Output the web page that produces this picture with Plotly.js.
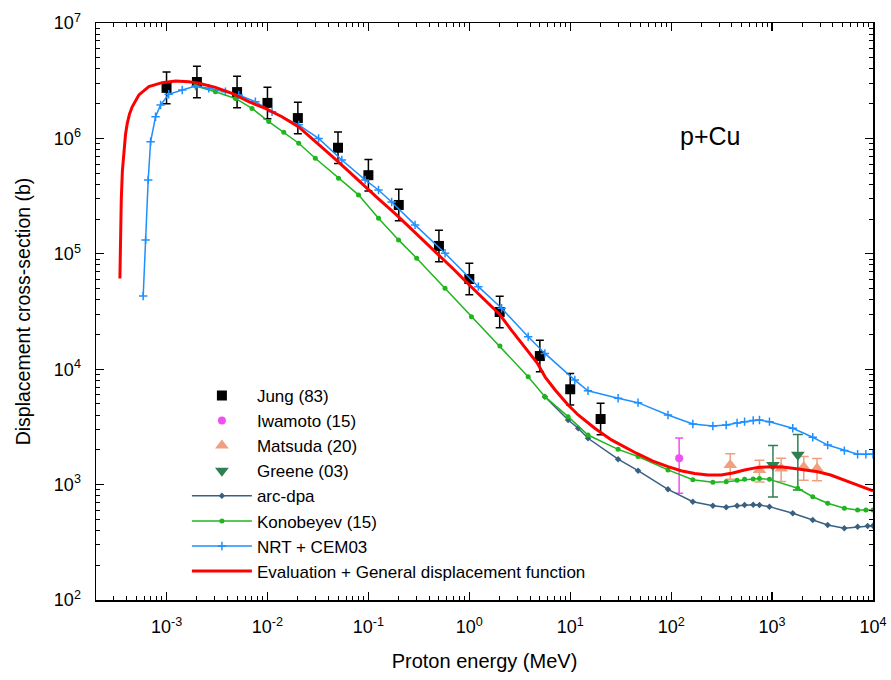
<!DOCTYPE html>
<html>
<head>
<meta charset="utf-8">
<script src="https://cdn.plot.ly/plotly-3.0.1.min.js"></script>
<style>html,body{margin:0;padding:0;background:#fff;}#chart{width:891px;height:680px;}</style>
</head>
<body>
<div id="chart"></div>
<script>
// ---- Data (energies in MeV, cross-sections in barn) ----
const jungE = [1e-3, 2e-3, 5e-3, 1e-2, 2e-2, 5e-2, 0.1, 0.2, 0.5, 1, 2, 5, 10, 20];
const jungY = [2.74e6, 3.08e6, 2.52e6, 2.03e6, 1.5e6, 8.3e5, 4.8e5, 2.65e5, 1.17e5, 6.05e4, 3.13e4, 1.3e4, 6.7e3, 3.7e3];

const iwamotoE = [120];
const iwamotoY = [1.69e3];
const iwamotoErr = [850];

const matsudaE = [385, 750, 1230, 2060, 2790];
const matsudaY = [1.48e3, 1.34e3, 1.38e3, 1.42e3, 1.38e3];
const matsudaErr = [370, 285, 315, 330, 300];

const greeneE = [1020, 1800];
const greeneY = [1.48e3, 1.81e3];
const greeneErr = [700, 910];

const arcE = [5.61, 9.53, 12.0, 15.0, 29.8, 47, 93, 164, 259, 351, 450, 534, 650, 750, 942, 1603, 2529, 3557, 5200, 7040, 8850, 10000];
const arcY = [5.78e3, 3.63e3, 3.08e3, 2.52e3, 1.66e3, 1.32e3, 910, 711, 656, 636, 655, 665, 668, 665, 644, 564, 493, 447, 418, 431, 437, 440];

const konE = [1.94e-3, 3.05e-3, 4.82e-3, 7.03e-3, 1.03e-2, 1.45e-2, 2.04e-2, 2.98e-2, 5.06e-2, 7.98e-2, 0.126, 0.199, 0.301, 0.575, 1.05, 2.01, 3.83, 5.61, 9.53, 15.0, 29.8, 47, 93, 164, 259, 351, 450, 534, 650, 750, 942, 1795, 2529, 3557, 5200, 7040, 8500, 10000];
const konY = [2.84e6, 2.54e6, 2.22e6, 1.82e6, 1.40e6, 1.13e6, 9.08e5, 6.73e5, 4.51e5, 3.24e5, 2.03e5, 1.32e5, 9.15e4, 5.03e4, 2.85e4, 1.59e4, 8.61e3, 5.78e3, 3.88e3, 2.69e3, 2.02e3, 1.75e3, 1.34e3, 1.10e3, 1.05e3, 1.06e3, 1.09e3, 1.11e3, 1.12e3, 1.13e3, 1.11e3, 929, 785, 689, 623, 603, 603, 603];

const nrtE = [5.87e-4, 6.2e-4, 6.58e-4, 6.95e-4, 7.78e-4, 8.73e-4, 1.05e-3, 1.43e-3, 1.94e-3, 2.62e-3, 3.83e-3, 5.19e-3, 7.59e-3, 1.11e-2, 2.04e-2, 3.21e-2, 5.46e-2, 9.29e-2, 0.126, 0.170, 0.290, 0.575, 1.23, 2.09, 3.83, 5.61, 11.1, 15.0, 29.8, 47, 93, 164, 259, 351, 450, 534, 650, 750, 942, 1603, 2529, 3557, 5200, 7040, 8500, 10000];
const nrtY = [4.3e4, 1.32e5, 4.37e5, 9.35e5, 1.54e6, 1.95e6, 2.41e6, 2.63e6, 2.84e6, 2.72e6, 2.54e6, 2.38e6, 2.08e6, 1.70e6, 1.31e6, 1.0e6, 6.5e5, 4.37e5, 3.57e5, 2.81e5, 1.78e5, 1.01e5, 5.19e4, 3.37e4, 1.91e4, 1.37e4, 8.05e3, 6.5e3, 5.6e3, 5.13e3, 4.01e3, 3.35e3, 3.22e3, 3.28e3, 3.42e3, 3.51e3, 3.6e3, 3.63e3, 3.51e3, 3.08e3, 2.57e3, 2.2e3, 1.97e3, 1.83e3, 1.83e3, 1.83e3];

const evalE = [3.45e-4, 3.5e-4, 3.56e-4, 3.65e-4, 3.78e-4, 3.92e-4, 4.08e-4, 4.3e-4, 4.57e-4, 5.32e-4, 6.68e-4, 9.04e-4, 1.23e-3, 1.66e-3, 2.09e-3, 3.05e-3, 4.46e-3, 6.52e-3, 9.53e-3, 1.39e-2, 2.04e-2, 2.98e-2, 4.35e-2, 6.35e-2, 9.57e-2, 0.126, 0.190, 0.267, 0.472, 0.695, 1.0, 1.54, 1.98, 2.60, 3.50, 4.71, 5.65, 7.09, 9.53, 12.0, 17.5, 25.6, 45.2, 66, 93, 125, 171, 231, 313, 408, 534, 722, 977, 1276, 1667, 2155, 2831, 3808, 5200, 7040, 10000];
const evalY = [6.1e4, 1.6e5, 2.92e5, 5.2e5, 7.9e5, 1.08e6, 1.35e6, 1.63e6, 1.88e6, 2.38e6, 2.81e6, 3.04e6, 3.14e6, 3.10e6, 3.0e6, 2.77e6, 2.46e6, 2.08e6, 1.82e6, 1.54e6, 1.256e6, 9.48e5, 7.03e5, 5.21e5, 3.72e5, 2.99e5, 2.17e5, 1.64e5, 1.02e5, 7.38e4, 5.37e4, 3.75e4, 3.01e4, 2.19e4, 1.59e4, 1.13e4, 8.55e3, 6.61e3, 4.90e3, 4.01e3, 3.08e3, 2.44e3, 1.87e3, 1.60e3, 1.43e3, 1.32e3, 1.25e3, 1.21e3, 1.21e3, 1.26e3, 1.34e3, 1.41e3, 1.43e3, 1.42e3, 1.38e3, 1.34e3, 1.29e3, 1.21e3, 1.10e3, 991, 881];

const xTickVals = [1e-3, 1e-2, 1e-1, 1, 10, 100, 1000, 10000];
const xTickText = ['10<sup>-3</sup>', '10<sup>-2</sup>', '10<sup>-1</sup>', '10<sup>0</sup>', '10<sup>1</sup>', '10<sup>2</sup>', '10<sup>3</sup>', '10<sup>4</sup>'];
const yTickVals = [1e2, 1e3, 1e4, 1e5, 1e6, 1e7];
const yTickText = ['10<sup>2</sup>', '10<sup>3</sup>', '10<sup>4</sup>', '10<sup>5</sup>', '10<sup>6</sup>', '10<sup>7</sup>'];

// ---- Traces ----
const traces = [
  {
    name: 'Jung (83)', x: jungE, y: jungY, type: 'scatter', mode: 'markers',
    marker: {symbol: 'square', size: 10, color: '#000000'},
    error_y: {type: 'percent', symmetric: false, value: 37, valueminus: 27, color: '#000000', thickness: 1.5, width: 4}
  },
  {
    name: 'Iwamoto (15)', x: iwamotoE, y: iwamotoY, type: 'scatter', mode: 'markers',
    marker: {symbol: 'circle', size: 8, color: '#f050f0'},
    error_y: {type: 'data', array: iwamotoErr, color: '#f050f0', thickness: 1.5, width: 4}
  },
  {
    name: 'Matsuda (20)', x: matsudaE, y: matsudaY, type: 'scatter', mode: 'markers',
    marker: {symbol: 'triangle-up', size: 12, color: '#f0a080'},
    error_y: {type: 'data', array: matsudaErr, color: '#f0a080', thickness: 1.5, width: 5}
  },
  {
    name: 'Greene (03)', x: greeneE, y: greeneY, type: 'scatter', mode: 'markers',
    marker: {symbol: 'triangle-down', size: 12, color: '#2e8050'},
    error_y: {type: 'data', array: greeneErr, color: '#2e8050', thickness: 1.5, width: 5}
  },
  {
    name: 'arc-dpa', x: arcE, y: arcY, type: 'scatter', mode: 'lines+markers',
    line: {color: '#3a6080', width: 1.5},
    marker: {symbol: 'diamond', size: 5, color: '#3a6080'}
  },
  {
    name: 'Konobeyev (15)', x: konE, y: konY, type: 'scatter', mode: 'lines+markers',
    line: {color: '#1fb51f', width: 1.5},
    marker: {symbol: 'circle', size: 5, color: '#1fb51f'}
  },
  {
    name: 'NRT + CEM03', x: nrtE, y: nrtY, type: 'scatter', mode: 'lines+markers',
    line: {color: '#1e8fff', width: 1.5},
    marker: {symbol: 'cross-thin', size: 6, color: '#1e8fff', line: {color: '#1e8fff', width: 1.5}}
  },
  {
    name: 'Evaluation + General displacement function', x: evalE, y: evalY, type: 'scatter', mode: 'lines',
    line: {color: '#ff0000', width: 3}
  }
];

const axisCommon = {
  type: 'log', showline: true, linecolor: '#000', linewidth: 1.5, mirror: 'allticks',
  ticks: 'inside', ticklen: 8, tickwidth: 1.2, tickcolor: '#000',
  showgrid: false, zeroline: false, tickmode: 'array',
  tickfont: {family: 'Liberation Sans, Arial, sans-serif', size: 18, color: '#000'},
  minor: {ticks: 'inside', ticklen: 4, tickwidth: 1, tickcolor: '#000', dtick: 'D1', showgrid: false}
};

const layout = {
  width: 891, height: 680,
  margin: {l: 96, r: 18, t: 23, b: 80},
  paper_bgcolor: '#fff', plot_bgcolor: '#fff',
  font: {family: 'Liberation Sans, Arial, sans-serif', color: '#000'},
  xaxis: Object.assign({}, axisCommon, {
    range: [Math.log10(2e-4), 4], tickvals: xTickVals, ticktext: xTickText,
    ticklabelstandoff: 10,
    title: {text: 'Proton energy (MeV)', font: {size: 20}, standoff: 18}
  }),
  yaxis: Object.assign({}, axisCommon, {
    range: [2, 7], tickvals: yTickVals, ticktext: yTickText,
    ticklabelstandoff: 10,
    title: {text: 'Displacement cross-section (b)', font: {size: 19.5}, standoff: 18}
  }),
  showlegend: true,
  legend: {
    x: 0.117, y: 0.385, xanchor: 'left', yanchor: 'top',
    bgcolor: 'rgba(0,0,0,0)', borderwidth: 0,
    font: {size: 17, color: '#000'}, itemwidth: 60, tracegroupgap: 0
  },
  annotations: [{
    text: 'p+Cu', xref: 'paper', yref: 'paper', x: 0.790, y: 0.804,
    xanchor: 'center', yanchor: 'middle', showarrow: false,
    font: {size: 25, color: '#000'}
  }]
};

Plotly.newPlot('chart', traces, layout, {displayModeBar: false, staticPlot: true});
</script>
</body>
</html>
